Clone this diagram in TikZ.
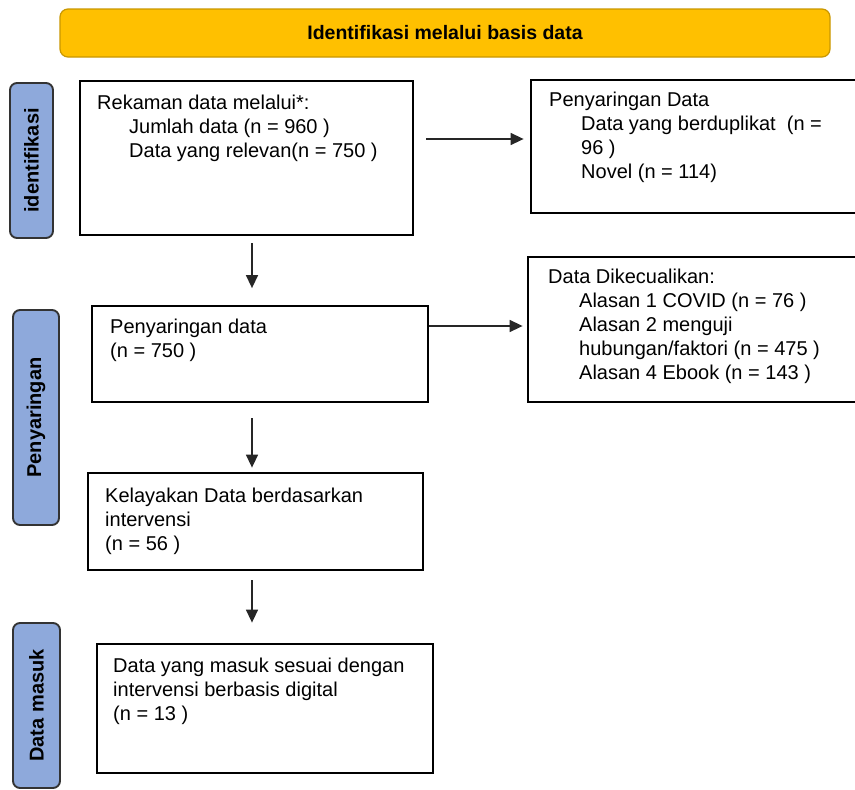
\documentclass[tikz,border=0pt]{standalone}
\usepackage{fontspec}
\setmainfont{Liberation Sans}
\usetikzlibrary{arrows.meta}
\definecolor{banfill}{HTML}{FFC000}
\definecolor{banedge}{HTML}{C99700}
\definecolor{lblfill}{HTML}{8EA9DB}
\definecolor{lbledge}{HTML}{333333}
\begin{document}
\begin{tikzpicture}[x=1pt,y=-1pt,
  box/.style={draw=black, line width=2.8pt, fill=white, rectangle},
  lbl/.style={draw=lbledge, line width=1.9pt, fill=lblfill, rounded corners=7pt,
    rotate=90, font=\bfseries\fontsize{20}{24}\selectfont, inner sep=0pt},
  txt/.style={anchor=north west, inner sep=0pt, align=left,
    font=\fontsize{20}{24}\selectfont},
  arr/.style={draw=black!85, line width=1.5pt, -{Triangle[length=13pt,width=12pt]}},
]
\useasboundingbox (0,0) rectangle (855,790);
\clip (0,0) rectangle (855,790);

% banner
\node[draw=banedge, line width=1.2pt, fill=banfill, rounded corners=8pt,
  minimum width=770pt, minimum height=48pt, inner sep=0pt,
  font=\bfseries\fontsize{19.5}{24}\selectfont] (ban) at (445,33) {Identifikasi melalui basis data};

% side labels
\node[lbl, minimum width=155pt, minimum height=43pt] (L1) at (31.5,160.5) {identifikasi};
\node[lbl, minimum width=215pt, minimum height=46pt] (L2) at (36,417.5) {Penyaringan};
\node[lbl, minimum width=165pt, minimum height=47pt] (L3) at (36.5,705.5) {Data masuk};

% boxes
\node[box, minimum width=333pt, minimum height=154pt] (b1) at (246.5,158) {};
\node[box, minimum width=344pt, minimum height=133pt] (r1) at (703,146.5) {};
\node[box, minimum width=336pt, minimum height=96pt] (b2) at (260,354) {};
\node[box, minimum width=347pt, minimum height=145pt] (r2) at (701.5,329.5) {};
\node[box, minimum width=335pt, minimum height=97pt] (b3) at (255.5,521.5) {};
\node[box, minimum width=336pt, minimum height=129pt] (b4) at (265,708.5) {};

% texts
\node[txt] (t1) at (97,94.4) {Rekaman data melalui*:\\
  \hspace*{32pt}Jumlah data (n = 960 )\\
  \hspace*{32pt}Data yang relevan(n = 750 )};
\node[txt] (tr1) at (549,92) {Penyaringan Data\\
  \hspace*{32pt}Data yang berduplikat\ \ (n =\\
  \hspace*{32pt}96 )\\
  \hspace*{32pt}Novel (n = 114)};
\node[txt] (t2) at (110,318.4) {Penyaringan data\\(n = 750 )};
\node[txt] (tr2) at (548,268.4) {Data Dikecualikan:\\
  \hspace*{31pt}Alasan 1 COVID (n = 76 )\\
  \hspace*{31pt}Alasan 2 menguji\\
  \hspace*{31pt}hubungan/faktori (n = 475 )\\
  \hspace*{31pt}Alasan 4 Ebook (n = 143 )};
\node[txt] (t3) at (105,487.4) {Kelayakan Data berdasarkan\\intervensi\\(n = 56 )};
\node[txt] (t4) at (113,657.4) {Data yang masuk sesuai dengan\\intervensi berbasis digital\\(n = 13 )};

% connectors
\draw[arr, shorten <=12pt, shorten >=6pt] (b1.east |- 0,139) -- (r1.west |- 0,139);
\draw[arr, shorten >=4pt] (b2.east |- 0,326) -- (r2.west |- 0,326);
\draw[arr, shorten <=7pt, shorten >=16.5pt] (b1.south -| 252,0) -- (b2.north -| 252,0);
\draw[arr, shorten <=15pt, shorten >=4pt] (b2.south -| 252,0) -- (b3.north -| 252,0);
\draw[arr, shorten <=9pt, shorten >=20pt] (b3.south -| 252,0) -- (b4.north -| 252,0);
\end{tikzpicture}
\end{document}
